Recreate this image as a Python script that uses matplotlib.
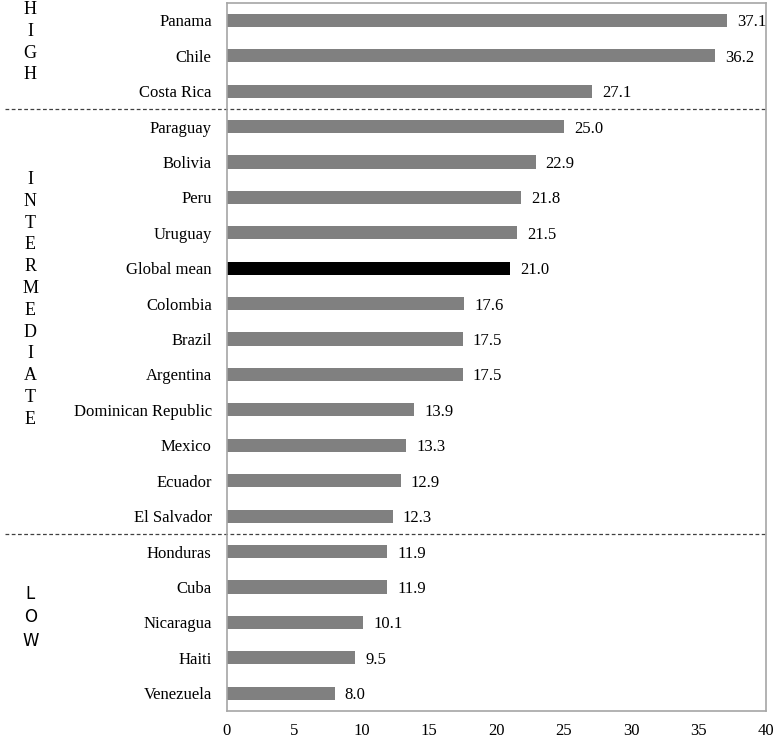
import matplotlib.pyplot as plt
from matplotlib.transforms import blended_transform_factory

# data, top to bottom
countries = ['Panama', 'Chile', 'Costa Rica',
             'Paraguay', 'Bolivia', 'Peru', 'Uruguay', 'Global mean', 'Colombia',
             'Brazil', 'Argentina', 'Dominican Republic', 'Mexico', 'Ecuador', 'El Salvador',
             'Honduras', 'Cuba', 'Nicaragua', 'Haiti', 'Venezuela']
values = [37.1, 36.2, 27.1,
          25.0, 22.9, 21.8, 21.5, 21.0, 17.6,
          17.5, 17.5, 13.9, 13.3, 12.9, 12.3,
          11.9, 11.9, 10.1, 9.5, 8.0]
groups = ['HIGH', 'INTERMEDIATE', 'LOW']
group_sizes = [3, 12, 5]
xticks = [0, 5, 10, 15, 20, 25, 30, 35, 40]

plt.rcParams['font.family'] = ['Liberation Serif', 'DejaVu Serif']
plt.rcParams['font.size'] = 12

fig = plt.figure(figsize=(7.76, 7.39), dpi=100)
ax = fig.add_axes([0.2925, 0.038, 0.6945, 0.9585])

ypos = list(range(len(countries)))
colors = ['black' if c == 'Global mean' else '#808080' for c in countries]
ax.barh(ypos, values, height=0.37, color=colors)

for y, v in zip(ypos, values):
    ax.text(v + 0.75, y, f'{v:.1f}', va='center_baseline', ha='left')

ax.set_ylim(len(countries) - 0.5, -0.5)
ax.set_xlim(0, 40)
ax.set_xticks(xticks)
ax.set_yticks(ypos)
ax.set_yticklabels(countries)
ax.tick_params(axis='y', length=0, pad=11)
ax.tick_params(axis='x', length=0, pad=9)
for s in ax.spines.values():
    s.set_color('#a6a6a6')
    s.set_linewidth(1.2)

# group separators and vertical group labels
trans = blended_transform_factory(ax.transAxes, ax.transData)
label_centers = [0.62, 7.88, 16.86]
start = 0
for g, n, c in zip(groups, group_sizes, label_centers):
    end = start + n
    if end < len(countries):
        ax.plot([-0.412, 1.0], [end - 0.5, end - 0.5], transform=trans,
                color='#404040', linestyle=(0, (3, 2)), linewidth=0.9, clip_on=False)
    fam = ['DejaVu Sans'] if g == 'LOW' else ['Liberation Serif', 'DejaVu Serif']
    ax.text(-0.365, c, '\n'.join(g), transform=trans,
            ha='center', va='center', linespacing=1.37 if g != 'LOW' else 1.38,
            family=fam, fontsize=13 if g != 'LOW' else 12)
    start = end

fig.savefig('out.png', dpi=100)
